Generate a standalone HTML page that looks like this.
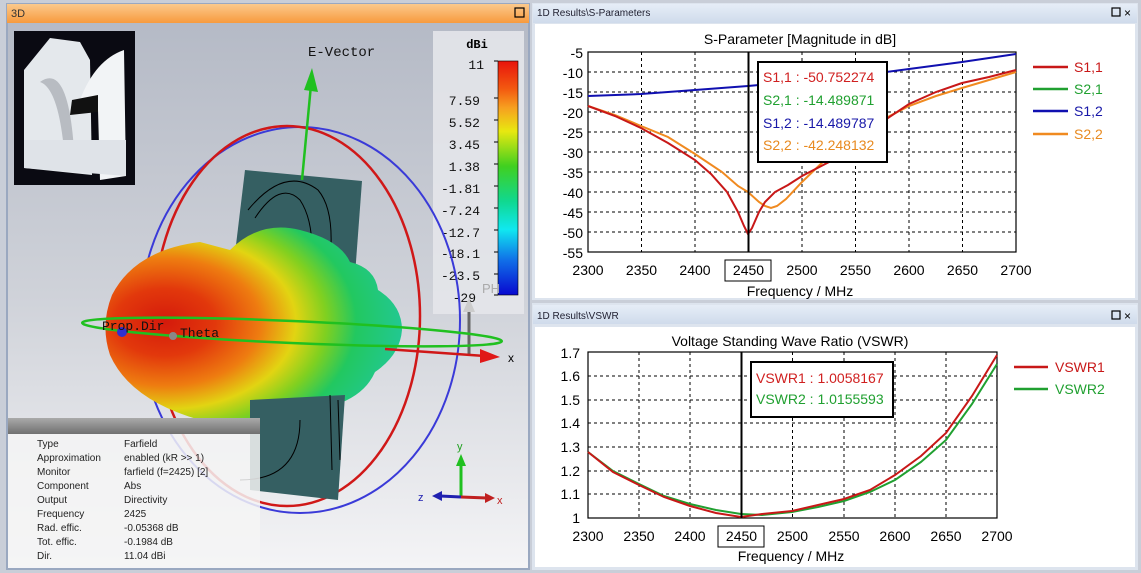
<!DOCTYPE html>
<html><head><meta charset="utf-8"><style>
html,body{margin:0;padding:0;background:#c9ced8;}
svg{display:block;font-family:"Liberation Sans",sans-serif;}
.mono{font-family:"Liberation Mono","DejaVu Sans Mono",monospace;}
</style></head><body>
<svg width="1141" height="573" viewBox="0 0 1141 573" xmlns="http://www.w3.org/2000/svg">
<defs>
<linearGradient id="bg3d" x1="0" y1="0" x2="0" y2="1"><stop offset="0" stop-color="#b5bac6"/><stop offset="0.5" stop-color="#cfd2d9"/><stop offset="1" stop-color="#f4f4f6"/></linearGradient>
<linearGradient id="orng" x1="0" y1="0" x2="0" y2="1"><stop offset="0" stop-color="#fbc98c"/><stop offset="1" stop-color="#f79a3e"/></linearGradient>
<linearGradient id="blu" x1="0" y1="0" x2="0" y2="1"><stop offset="0" stop-color="#e6edf7"/><stop offset="1" stop-color="#cfdbeb"/></linearGradient>
<linearGradient id="cbar" x1="0" y1="0" x2="0" y2="1">
<stop offset="0" stop-color="#e8140c"/><stop offset="0.12" stop-color="#f35a10"/><stop offset="0.2" stop-color="#f7a020"/><stop offset="0.3" stop-color="#e8e810"/><stop offset="0.45" stop-color="#40d020"/><stop offset="0.6" stop-color="#10d890"/><stop offset="0.72" stop-color="#10e8f0"/><stop offset="0.85" stop-color="#1070e8"/><stop offset="1" stop-color="#0808d0"/></linearGradient>
<radialGradient id="lobe" cx="0.2" cy="0.48" r="0.85">
<stop offset="0" stop-color="#d41a0c"/><stop offset="0.2" stop-color="#e2380c"/><stop offset="0.38" stop-color="#ee7c10"/><stop offset="0.52" stop-color="#e2d412"/><stop offset="0.64" stop-color="#80d020"/><stop offset="0.76" stop-color="#22c860"/><stop offset="1" stop-color="#22c8a0"/></radialGradient>
<linearGradient id="hdr" x1="0" y1="0" x2="0" y2="1"><stop offset="0" stop-color="#aaaaaa"/><stop offset="1" stop-color="#707070"/></linearGradient>
</defs>
<rect width="1141" height="573" fill="#c9ced8"/>
<!-- LEFT 3D PANEL -->
<rect x="6" y="3" width="524" height="567" fill="#9aa8c0"/>
<rect x="7" y="4" width="522" height="19" fill="url(#orng)"/>
<text x="11" y="17" font-size="11" fill="#333">3D</text>
<rect x="515" y="8" width="9" height="9" fill="none" stroke="#000" stroke-width="1.2"/>
<rect x="8" y="23" width="520" height="545" fill="url(#bg3d)"/>
<!-- thumbnail -->
<rect x="14" y="31" width="121" height="154" fill="#0a0a12"/>
<path d="M24 70 L50 38 L80 42 L90 60 L92 175 L24 168 Z" fill="#e4e8ec"/>
<path d="M80 100 Q95 60 124 50 L126 176 L100 180 L98 110 Z" fill="#f2f4f6"/>
<path d="M40 82 Q68 62 74 150 L64 150 Q58 88 40 82Z" fill="#b8bcc2"/>
<path d="M24 140 L126 140 L126 176 L24 168Z" fill="#dfe3e8"/>
<path d="M70 115 L98 112 L98 95 L72 100Z" fill="#111"/>
<!-- colorbar panel -->
<rect x="433" y="31" width="91" height="283" fill="#e4e6ea" opacity="0.9"/>
<text x="477" y="48" font-size="12" text-anchor="middle" class="mono" font-weight="bold">dBi</text>
<rect x="498" y="61" width="20" height="234" fill="url(#cbar)" stroke="#000" stroke-width="0.6"/>
<g class="mono" font-size="13" text-anchor="end" fill="#111">
<text x="484" y="69">11</text><text x="480" y="105">7.59</text><text x="480" y="127">5.52</text><text x="480" y="149">3.45</text><text x="480" y="171">1.38</text><text x="480" y="193">-1.81</text><text x="480" y="215">-7.24</text><text x="480" y="237">-12.7</text><text x="480" y="258">-18.1</text><text x="480" y="280">-23.5</text><text x="476" y="302">-29</text></g>
<g stroke="#000" stroke-width="1"><line x1="494" y1="61" x2="498" y2="61"/><line x1="494" y1="98" x2="498" y2="98"/><line x1="494" y1="120" x2="498" y2="120"/><line x1="494" y1="142" x2="498" y2="142"/><line x1="494" y1="164" x2="498" y2="164"/><line x1="494" y1="186" x2="498" y2="186"/><line x1="494" y1="208" x2="498" y2="208"/><line x1="494" y1="230" x2="498" y2="230"/><line x1="494" y1="252" x2="498" y2="252"/><line x1="494" y1="274" x2="498" y2="274"/><line x1="494" y1="295" x2="498" y2="295"/></g>
<text x="482" y="293" font-size="13" fill="#aaa">PH</text>
<line x1="469" y1="305" x2="469" y2="356" stroke="#666" stroke-width="3"/>
<path d="M463 312 L469 298 L475 312Z" fill="#ccc"/>
<!-- plate top -->
<polygon points="245,170 362,181 355,275 236,245" fill="#355f62"/>
<path d="M248 210 Q285 165 318 190 Q335 210 330 260" fill="none" stroke="#000" stroke-width="1"/>
<path d="M255 218 Q280 180 300 200 Q312 218 312 250" fill="none" stroke="#000" stroke-width="1"/>
<!-- blue/red ellipses back -->
<ellipse cx="300" cy="320" rx="160" ry="193" fill="none" stroke="#3a3ad8" stroke-width="2"/>
<ellipse cx="287" cy="316" rx="133" ry="190" fill="none" stroke="#d01818" stroke-width="2.5"/>
<!-- lobe -->
<path d="M230 250 Q260 220 300 230 Q340 240 350 262 Q375 268 378 290 Q402 305 402 330 Q400 355 375 372 Q365 395 335 405 L300 418 Q250 430 200 420 Q130 400 110 355 Q100 325 112 295 Q135 250 200 242Z" fill="url(#lobe)"/>
<!-- plate bottom -->
<polygon points="250,400 345,395 338,500 250,490" fill="#355f62"/>
<path d="M330 395 L332 470 M338 400 L340 460" stroke="#000" stroke-width="1"/>
<path d="M300 420 Q300 480 240 480" fill="none" stroke="#000" stroke-width="1"/>
<!-- green ring -->
<ellipse cx="292" cy="332" rx="210" ry="11" fill="none" stroke="#20c020" stroke-width="2.5" transform="rotate(2.5 292 332)"/>
<!-- axes -->
<line x1="302" y1="180" x2="311" y2="85" stroke="#20c020" stroke-width="2.5"/>
<path d="M304 90 L312 68 L318 92Z" fill="#20c020"/>
<text x="308" y="56" class="mono" font-size="14" fill="#111">E-Vector</text>
<line x1="385" y1="349" x2="485" y2="356" stroke="#d01818" stroke-width="2.5"/>
<path d="M480 349 L500 357 L480 363Z" fill="#e01818"/>
<text x="508" y="362" font-size="12" fill="#000">x</text>
<circle cx="122" cy="332" r="5" fill="#3030d0"/>
<circle cx="173" cy="336" r="4" fill="#888"/>
<text x="102" y="330" class="mono" font-size="13" fill="#111">Prop.Dir</text>
<text x="180" y="337" class="mono" font-size="13" fill="#111">Theta</text>
<!-- info box -->
<rect x="8" y="418" width="252" height="148" fill="#f4f4f4" opacity="0.85"/>
<rect x="8" y="418" width="252" height="16" fill="url(#hdr)"/>
<g font-size="10" fill="#222">
<text x="37" y="447">Type</text><text x="124" y="447">Farfield</text>
<text x="37" y="461">Approximation</text><text x="124" y="461">enabled (kR &gt;&gt; 1)</text>
<text x="37" y="475">Monitor</text><text x="124" y="475">farfield (f=2425) [2]</text>
<text x="37" y="489">Component</text><text x="124" y="489">Abs</text>
<text x="37" y="503">Output</text><text x="124" y="503">Directivity</text>
<text x="37" y="517">Frequency</text><text x="124" y="517">2425</text>
<text x="37" y="531">Rad. effic.</text><text x="124" y="531">-0.05368 dB</text>
<text x="37" y="545">Tot. effic.</text><text x="124" y="545">-0.1984 dB</text>
<text x="37" y="559">Dir.</text><text x="124" y="559">11.04 dBi</text></g>
<!-- mini axes -->
<line x1="461" y1="496" x2="461" y2="462" stroke="#20c020" stroke-width="3"/><path d="M456 466 L461 454 L466 466Z" fill="#20c020"/>
<text x="457" y="450" font-size="11" fill="#20a020">y</text>
<line x1="461" y1="497" x2="487" y2="498" stroke="#c02020" stroke-width="3"/><path d="M485 493 L495 498 L485 503Z" fill="#c02020"/>
<text x="497" y="504" font-size="11" fill="#c02020">x</text>
<line x1="461" y1="497" x2="440" y2="496" stroke="#2020b0" stroke-width="3"/><path d="M442 491 L432 496 L442 501Z" fill="#2020b0"/>
<text x="418" y="501" font-size="11" fill="#2020b0">z</text>

<!-- RIGHT TOP PANEL -->
<rect x="532" y="3" width="606" height="297" fill="#dde4ee"/>
<rect x="533" y="4" width="604" height="19" fill="url(#blu)"/>
<text x="537" y="16" font-size="10" fill="#223">1D Results\S-Parameters</text>
<rect x="1112" y="8" width="8" height="8" fill="none" stroke="#000" stroke-width="1.2"/>
<text x="1124" y="17" font-size="12">×</text>
<rect x="535" y="24" width="600" height="274" fill="#fff"/>
<text x="800" y="44" font-size="14" text-anchor="middle">S-Parameter [Magnitude in dB]</text>
<g stroke="#000" stroke-width="1" stroke-dasharray="3,3">
<line x1="641.5" y1="52" x2="641.5" y2="252"/><line x1="695" y1="52" x2="695" y2="252"/><line x1="802" y1="52" x2="802" y2="252"/><line x1="855.5" y1="52" x2="855.5" y2="252"/><line x1="909" y1="52" x2="909" y2="252"/><line x1="962.5" y1="52" x2="962.5" y2="252"/>
<line x1="588" y1="72" x2="1016" y2="72"/><line x1="588" y1="92" x2="1016" y2="92"/><line x1="588" y1="112" x2="1016" y2="112"/><line x1="588" y1="132" x2="1016" y2="132"/><line x1="588" y1="152" x2="1016" y2="152"/><line x1="588" y1="172" x2="1016" y2="172"/><line x1="588" y1="192" x2="1016" y2="192"/><line x1="588" y1="212" x2="1016" y2="212"/><line x1="588" y1="232" x2="1016" y2="232"/></g>
<rect x="588" y="52" width="428" height="200" fill="none" stroke="#000" stroke-width="1.2"/>
<g font-size="14" text-anchor="end" fill="#000">
<text x="583" y="58">-5</text><text x="583" y="78">-10</text><text x="583" y="98">-15</text><text x="583" y="118">-20</text><text x="583" y="138">-25</text><text x="583" y="158">-30</text><text x="583" y="178">-35</text><text x="583" y="198">-40</text><text x="583" y="218">-45</text><text x="583" y="238">-50</text><text x="583" y="258">-55</text></g>
<g font-size="14" text-anchor="middle">
<text x="588" y="275">2300</text><text x="641.5" y="275">2350</text><text x="695" y="275">2400</text><text x="748.5" y="275">2450</text><text x="802" y="275">2500</text><text x="855.5" y="275">2550</text><text x="909" y="275">2600</text><text x="962.5" y="275">2650</text><text x="1016" y="275">2700</text></g>
<rect x="725" y="260" width="46" height="21" fill="none" stroke="#000"/>
<text x="800" y="296" font-size="14" text-anchor="middle">Frequency / MHz</text>
<polyline fill="none" stroke="#1010b0" stroke-width="2" points="588,96 641,94 695,90 748,86 802,81 855,76 909,69 962,62 1016,54"/>
<polyline fill="none" stroke="#f08a20" stroke-width="2" points="588,106 615,115 641,126 668,137 695,154 722,172 738,186 748,192 759,202 765,206 771,208 777,206 786,199 802,182 829,156 855,137 882,120 909,106 936,96 962,88 989,80 1016,72"/>
<polyline fill="none" stroke="#c81818" stroke-width="2" points="588,106 615,116 641,128 668,143 695,160 711,174 727,192 738,212 744,226 748,234 752,228 759,212 765,202 775,192 788,185 802,176 829,162 855,142 882,122 909,104 936,92 962,83 989,77 1016,70"/>
<line x1="748.5" y1="52" x2="748.5" y2="252" stroke="#000" stroke-width="2"/>
<rect x="758" y="62" width="129" height="100" fill="#fff" stroke="#000" stroke-width="2"/>
<g font-size="14"><text x="763" y="82" fill="#d02020">S1,1 : -50.752274</text><text x="763" y="105" fill="#20a030">S2,1 : -14.489871</text><text x="763" y="128" fill="#1818a8">S1,2 : -14.489787</text><text x="763" y="150" fill="#e88a20">S2,2 : -42.248132</text></g>
<g stroke-width="2.5"><line x1="1033" y1="67" x2="1068" y2="67" stroke="#c81818"/><line x1="1033" y1="89" x2="1068" y2="89" stroke="#20a030"/><line x1="1033" y1="111" x2="1068" y2="111" stroke="#1010b0"/><line x1="1033" y1="134" x2="1068" y2="134" stroke="#f08a20"/></g>
<g font-size="14"><text x="1074" y="72" fill="#c81818">S1,1</text><text x="1074" y="94" fill="#20a030">S2,1</text><text x="1074" y="116" fill="#1818a8">S1,2</text><text x="1074" y="139" fill="#e88a20">S2,2</text></g>

<!-- RIGHT BOTTOM PANEL -->
<rect x="532" y="303" width="606" height="267" fill="#dde4ee"/>
<rect x="533" y="305" width="604" height="19" fill="url(#blu)"/>
<text x="537" y="319" font-size="10" fill="#223">1D Results\VSWR</text>
<rect x="1112" y="311" width="8" height="8" fill="none" stroke="#000" stroke-width="1.2"/>
<text x="1124" y="320" font-size="12">×</text>
<rect x="535" y="327" width="600" height="240" fill="#fff"/>
<text x="790" y="346" font-size="14" text-anchor="middle">Voltage Standing Wave Ratio (VSWR)</text>
<g stroke="#000" stroke-width="1" stroke-dasharray="3,3">
<line x1="639" y1="352" x2="639" y2="518"/><line x1="690" y1="352" x2="690" y2="518"/><line x1="792.5" y1="352" x2="792.5" y2="518"/><line x1="844" y1="352" x2="844" y2="518"/><line x1="895" y1="352" x2="895" y2="518"/><line x1="946" y1="352" x2="946" y2="518"/>
<line x1="588" y1="376" x2="997" y2="376"/><line x1="588" y1="400" x2="997" y2="400"/><line x1="588" y1="423" x2="997" y2="423"/><line x1="588" y1="447" x2="997" y2="447"/><line x1="588" y1="471" x2="997" y2="471"/><line x1="588" y1="494" x2="997" y2="494"/></g>
<rect x="588" y="352" width="409" height="166" fill="none" stroke="#000" stroke-width="1.2"/>
<g font-size="14" text-anchor="end">
<text x="580" y="358">1.7</text><text x="580" y="381">1.6</text><text x="580" y="405">1.5</text><text x="580" y="428">1.4</text><text x="580" y="452">1.3</text><text x="580" y="476">1.2</text><text x="580" y="499">1.1</text><text x="580" y="523">1</text></g>
<g font-size="14" text-anchor="middle">
<text x="588" y="541">2300</text><text x="639" y="541">2350</text><text x="690" y="541">2400</text><text x="741.5" y="541">2450</text><text x="792.5" y="541">2500</text><text x="844" y="541">2550</text><text x="895" y="541">2600</text><text x="946" y="541">2650</text><text x="997" y="541">2700</text></g>
<rect x="718" y="526" width="46" height="21" fill="none" stroke="#000"/>
<text x="791" y="561" font-size="14" text-anchor="middle">Frequency / MHz</text>
<polyline fill="none" stroke="#20a030" stroke-width="2" points="588,452 613,471 639,484 664,496 690,504 716,510 741,514 762,515 792,512 818,507 844,501 870,492 895,480 921,462 946,440 972,404 997,364"/>
<polyline fill="none" stroke="#c81818" stroke-width="2" points="588,452 613,472 639,485 664,497 690,506 716,513 741,517 762,514 792,511 818,505 844,499 870,490 895,475 921,456 946,433 972,396 997,355"/>
<line x1="741.5" y1="352" x2="741.5" y2="518" stroke="#000" stroke-width="2"/>
<rect x="751" y="362" width="142" height="55" fill="#fff" stroke="#000" stroke-width="2"/>
<g font-size="14"><text x="756" y="383" fill="#d02020">VSWR1 : 1.0058167</text><text x="756" y="404" fill="#20a030">VSWR2 : 1.0155593</text></g>
<g stroke-width="2.5"><line x1="1014" y1="367" x2="1048" y2="367" stroke="#c81818"/><line x1="1014" y1="389" x2="1048" y2="389" stroke="#20a030"/></g>
<g font-size="14"><text x="1055" y="372" fill="#c81818">VSWR1</text><text x="1055" y="394" fill="#20a030">VSWR2</text></g>
</svg>
</body></html>
